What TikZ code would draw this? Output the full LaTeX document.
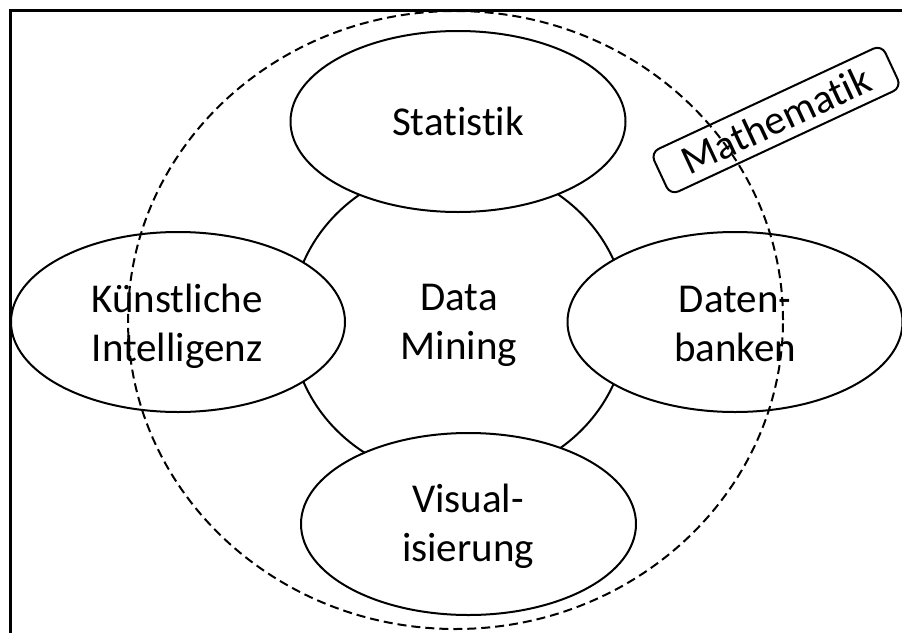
\documentclass[tikz,border=0pt]{standalone}
\usepackage{fontspec}
\setmainfont{Carlito}[Ligatures=NoCommon]
\usetikzlibrary{shapes.geometric}
\begin{document}
\begin{tikzpicture}[x=1pt,y=-1pt,
  field/.style={draw=black, fill=white, line width=2pt, ellipse, inner sep=0pt},
  lbl/.style={font=\fontsize{41}{49}\selectfont, align=center, inner sep=0pt},
  tag/.style={draw=black, fill=white, line width=2pt, rounded corners=9pt,
    minimum width=255pt, minimum height=47pt, inner sep=0pt, rotate=25,
    font=\fontsize{41}{49}\selectfont},
  area/.style={draw=black, ellipse, inner sep=0pt, line width=2pt,
    dash pattern=on 9pt off 5pt}]
\useasboundingbox (0,0) rectangle (902,632);
\clip (0,0) rectangle (902,632);
\fill[white] (0,0) rectangle (902,632);
% outer frame (runs off the right and bottom edge)
\draw[line width=3pt] (10,10) rectangle (940,670);

% central field and the four neighbouring disciplines
\node[field, minimum width=336pt, minimum height=316pt] (dm) at (459,322) {};
\node[field, minimum width=335pt, minimum height=181pt] (stat) at (458,121.5) {};
\node[field, minimum width=334pt, minimum height=180pt] (ki) at (178,322) {};
\node[field, minimum width=335pt, minimum height=180pt] (db) at (735,322) {};
\node[field, minimum width=335pt, minimum height=182pt] (vis) at (468.5,524) {};

% labels
\node[lbl, anchor=base] (statT) at (458,135) {Statistik};
\node[lbl] (dmT) at (459,325.5) {Data\\Mining};
\node[lbl] (kiT) at (177,326) {Künstliche\\Intelligenz};
\node[lbl] (dbT) at (735,323.5) {Daten-\\banken};
\node[lbl] (visT) at (468,526) {Visual-\\isierung};

% mathematics tag and its dashed region
\node[tag] (math) at (776,120) {Mathematik};
\node[area, minimum width=655pt, minimum height=618pt] (mathArea) at (455.5,320) {};
\end{tikzpicture}
\end{document}
